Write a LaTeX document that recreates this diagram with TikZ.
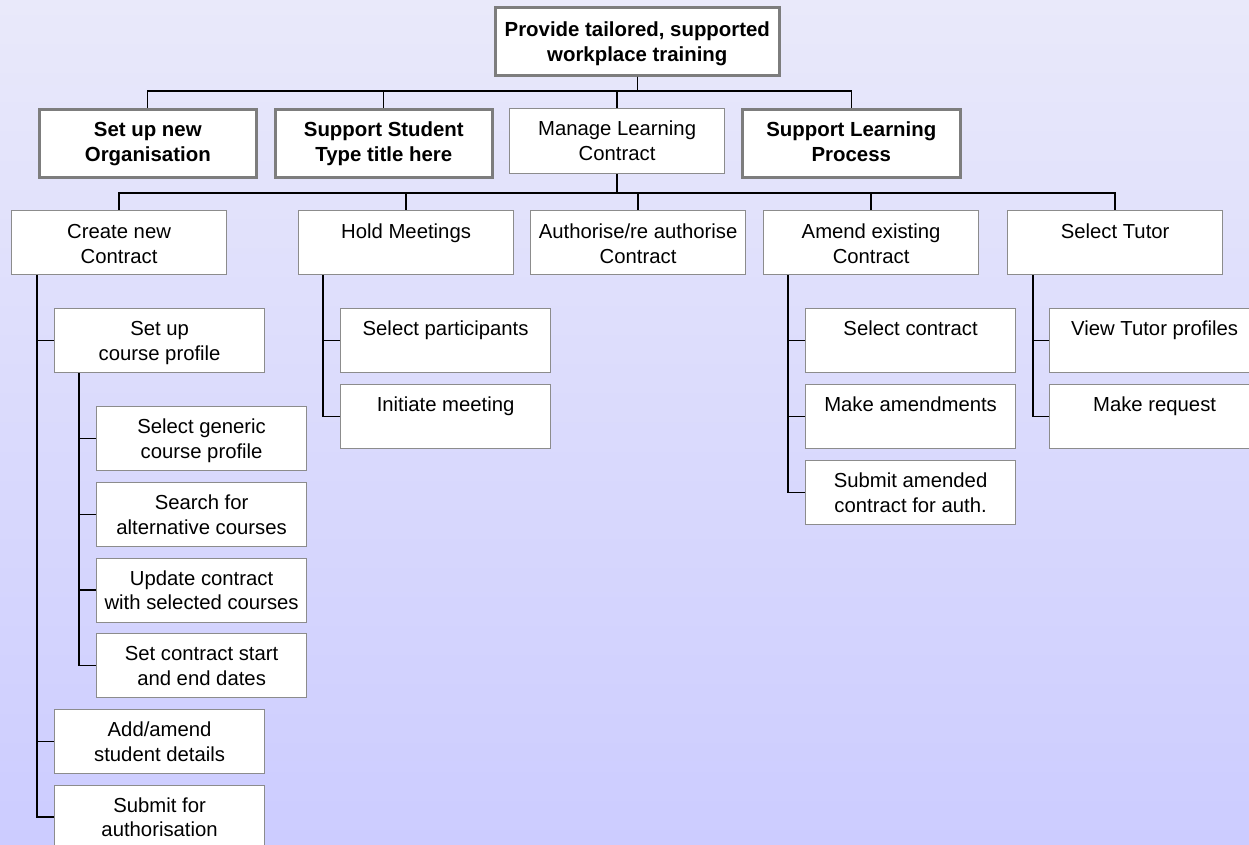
\documentclass[tikz,border=0pt]{standalone}
\usepackage{fontspec}
\setmainfont{Liberation Sans}
\definecolor{bgtop}{RGB}{233,233,250}
\definecolor{bgbot}{RGB}{204,204,255}
\definecolor{thinb}{RGB}{140,140,140}
\definecolor{thickb}{RGB}{125,125,125}
\newcommand{\bt}[4]{\parbox[t][#2pt][t]{#1pt}{\centering\rule{0pt}{#3pt}#4}}
\tikzset{
  bx/.style={draw=thinb, fill=white, line width=1.2pt, inner sep=0pt, anchor=north west},
  bxthick/.style={draw=thickb, fill=white, line width=2.6pt, inner sep=0pt, anchor=north west, font=\fontsize{20.4}{25.5}\selectfont\bfseries},
  con/.style={draw=black, line width=1.3pt},
}
\begin{document}
\begin{tikzpicture}[x=1pt, y=-1pt, font=\fontsize{20.3}{24.5}\selectfont]
\useasboundingbox (0,0) rectangle (1249,844);
\shade[top color=bgtop, bottom color=bgbot] (0,0) rectangle (1249,844);

% level 0
\node[bxthick] (top) at (494,6) {\bt{284}{68}{29}{Provide tailored, supported\\workplace training}};

% level 1
\node[bxthick] (org) at (38,108) {\bt{217}{68}{27}{Set up new\\Organisation}};
\node[bxthick] (stu) at (274,108) {\bt{217}{68}{27}{Support Student\\Type title here}};
\node[bx] (mlc) at (509,108) {\bt{215}{65}{27}{Manage Learning\\Contract}};
\node[bxthick] (slp) at (741,108) {\bt{218}{68}{27}{Support Learning\\Process}};

% level 2
\node[bx] (cnc) at (11,210) {\bt{215}{64}{28}{Create new\\Contract}};
\node[bx] (hm) at (298,210) {\bt{215}{64}{28}{Hold Meetings}};
\node[bx] (auth) at (530,210) {\bt{215}{64}{28}{Authorise/re authorise\\Contract}};
\node[bx] (amd) at (763,210) {\bt{215}{64}{28}{Amend existing\\Contract}};
\node[bx] (tut) at (1007,210) {\bt{215}{64}{28}{Select Tutor}};

% level 3 - create new contract
\node[bx] (scp) at (54,308) {\bt{210}{64}{27}{Set up\\course profile}};
\node[bx] (sgp) at (96,406) {\bt{210}{64}{27}{Select generic\\course profile}};
\node[bx] (sfa) at (96,482) {\bt{210}{64}{27}{Search for\\alternative courses}};
\node[bx] (ucs) at (96,557.5) {\bt{210}{64}{27}{Update contract\\with selected courses}};
\node[bx] (scd) at (96,633) {\bt{210}{64}{27}{Set contract start\\and end dates}};
\node[bx] (asd) at (54,709) {\bt{210}{64}{27}{Add/amend\\student details}};
\node[bx] (sub) at (54,784.5) {\bt{210}{64}{27}{Submit for\\authorisation}};

% level 3 - hold meetings
\node[bx] (sp) at (340,308) {\bt{210}{64}{27}{Select participants}};
\node[bx] (im) at (340,384) {\bt{210}{64}{27}{Initiate meeting}};

% level 3 - amend
\node[bx] (sc) at (805,308) {\bt{210}{64}{27}{Select contract}};
\node[bx] (ma) at (805,384) {\bt{210}{64}{27}{Make amendments}};
\node[bx] (sac) at (805,460) {\bt{210}{64}{27}{Submit amended\\contract for auth.}};

% level 3 - tutor
\node[bx] (vtp) at (1049,308) {\bt{210}{64}{27}{View Tutor profiles}};
\node[bx] (mr) at (1049,384) {\bt{210}{64}{27}{Make request}};

% connectors level 0 -> 1
\foreach \c in {org,stu,mlc,slp}
  \draw[con] (top.south) |- ([yshift=17pt]\c.north) -- (\c.north);
% connectors level 1 -> 2
\foreach \c in {cnc,hm,auth,amd,tut}
  \draw[con] (mlc.south) |- ([yshift=17pt]\c.north) -- (\c.north);
% side connectors
\foreach \c in {scp,asd,sub}
  \draw[con] ([xshift=26pt]cnc.south west) |- (\c.west);
\foreach \c in {sgp,sfa,ucs,scd}
  \draw[con] ([xshift=25pt]scp.south west) |- (\c.west);
\foreach \c in {sp,im}
  \draw[con] ([xshift=25pt]hm.south west) |- (\c.west);
\foreach \c in {sc,ma,sac}
  \draw[con] ([xshift=25pt]amd.south west) |- (\c.west);
\foreach \c in {vtp,mr}
  \draw[con] ([xshift=26pt]tut.south west) |- (\c.west);
\end{tikzpicture}
\end{document}
